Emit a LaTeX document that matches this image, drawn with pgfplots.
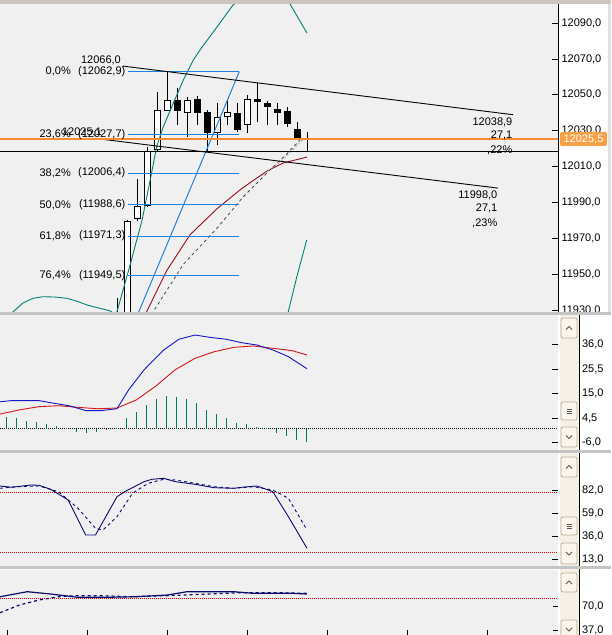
\documentclass[border=0pt]{standalone}
\usepackage{pgfplots}
\pgfplotsset{compat=1.18}
\usepackage{pgfplotstable}
\usepackage{fontspec}
\setmainfont{Liberation Sans}
\definecolor{panelbg}{RGB}{240,240,240}
\definecolor{sepgray}{RGB}{196,196,196}
\definecolor{topgray}{RGB}{205,196,190}
\definecolor{tealband}{RGB}{0,128,115}
\definecolor{histteal}{RGB}{0,120,100}
\definecolor{fibblue}{RGB}{30,130,220}
\definecolor{mared}{RGB}{150,10,30}
\definecolor{dashgray}{RGB}{60,75,75}
\definecolor{orangeline}{RGB}{245,140,50}
\definecolor{orangebox}{RGB}{248,160,70}
\definecolor{macdblue}{RGB}{20,20,200}
\definecolor{macdred}{RGB}{220,20,20}
\definecolor{navyline}{RGB}{10,10,110}
\definecolor{btnborder}{RGB}{190,172,150}
\definecolor{btnfill}{RGB}{250,246,238}
\definecolor{trackfill}{RGB}{244,240,230}
\newcommand{\lbl}{\fontsize{11}{13}\selectfont}

% candle wicks: x, wick low, wick high
\pgfplotstableread{
x wl wh
117 11905 11936.8
127 11905 11980.5
137 11979.5 12003.1
147 11987.5 12020.9
157 12018.5 12051.8
167 12041.0 12062.7
177 12033.2 12053.8
187 12026.5 12048.8
197 12033.0 12049.3
207 12018.1 12041.5
217 12022.0 12045.4
227 12033.2 12047.1
237 12029.3 12045.4
247 12028.7 12049.9
257 12034.8 12056.6
267 12033.2 12046.5
277 12033.2 12045.4
287 12032.1 12043.2
297 12024.8 12034.8
307 12018.1 12029.3
}\wicks
% rising candles: body low, body high
\pgfplotstableread{
x bl bh
127 11905 11979.7
137 11980.8 11988.1
147 11988.1 12018.7
157 12019.2 12041.5
167 12041.0 12047.1
187 12039.9 12047.1
217 12028.7 12037.6
227 12037.6 12040.4
247 12033.2 12047.7
}\upcandles
% falling candles
\pgfplotstableread{
x bl bh
177 12041.0 12047.1
197 12039.9 12047.7
207 12028.7 12040.4
237 12030.4 12039.9
257 12046.0 12047.7
267 12043.2 12045.4
277 12039.9 12042.1
287 12033.7 12041.0
297 12025.9 12030.9
307 12025.2 12025.8
}\downcandles

\pgfplotstableread{
x v
6.5 4.8
16.5 4.4
26.5 3.4
36.5 2.9
46.5 1.9
56.5 1.1
66.5 0.3
76.5 -1.4
86.5 -1.8
96.5 -1.4
106.5 -0.6
116.5 0.2
126.5 4.4
136.5 7.2
146.5 10.1
156.5 12.5
166.5 14.0
176.5 13.4
186.5 12.5
196.5 11.1
206.5 8.0
216.5 6.2
226.5 4.4
236.5 2.5
246.5 1.8
256.5 0.6
266.5 0.1
276.5 -1.8
286.5 -3.2
296.5 -4.9
306.5 -5.7
}\macdhist

\pgfplotsset{panel/.style={scale only axis, anchor=south west, width=558pt,
  xmin=0, xmax=558, axis background/.style={fill=panelbg},
  tick style={black, line width=0.8pt}, ytick align=inside, xtick align=inside,
  major tick length=6pt, yticklabel style={font=\lbl, anchor=west}}}

\begin{document}
\begin{tikzpicture}[x=1pt,y=1pt]
\useasboundingbox (0pt,0pt) rectangle (611pt,635pt);
\fill[white] (0pt,0pt) rectangle (611pt,635pt);

% ---------------- main price panel ----------------
\begin{axis}[panel, at={(0pt,322.5pt)}, height=308.5pt,
  ymin=11928.7, ymax=12100.6,
  axis x line=none, axis y line*=right, y axis line style={black, line width=0.8pt},
  ytick={11930,11950,11970,11990,12010,12030,12050,12070,12090},
  yticklabels={{11930,0},{11950,0},{11970,0},{11990,0},{12010,0},{12030,0},{12050,0},{12070,0},{12090,0}}]
% candles
\addplot[draw=none, forget plot, error bars/.cd, y dir=plus, y explicit, error mark=none,
  error bar style={draw=black, line width=1pt}]
  table[x=x, y=wl, y error plus expr={\thisrow{wh}-\thisrow{wl}}] {\wicks};
\addplot[draw=none, forget plot, error bars/.cd, y dir=plus, y explicit, error mark=none,
  error bar style={draw=black, line width=7pt}]
  table[x=x, y=bl, y error plus expr={\thisrow{bh}-\thisrow{bl}}] {\upcandles};
\addplot[draw=none, forget plot, error bars/.cd, y dir=plus, y explicit, error mark=none,
  error bar style={draw=white, line width=5pt}]
  table[x=x, y expr={\thisrow{bl}+0.56}, y error plus expr={\thisrow{bh}-\thisrow{bl}-1.12}] {\upcandles};
\addplot[draw=none, forget plot, error bars/.cd, y dir=plus, y explicit, error mark=none,
  error bar style={draw=black, line width=7pt}]
  table[x=x, y=bl, y error plus expr={\thisrow{bh}-\thisrow{bl}}] {\downcandles};
% bollinger-type bands
\addplot[tealband, line width=0.9pt] coordinates {(110,11915) (117,11929.2) (130,11955) (142,11980) (150,12002) (156.7,12021.1) (163.3,12032.2) (173.3,12045.3) (183.3,12058.2) (193.3,12069.4) (200,12075) (217,12087.8) (233,12100) (250,12108) (270,12110) (290,12100.6) (307,12084.4)};
\addplot[tealband, line width=0.9pt] coordinates {(0,11922) (13.3,11929.2) (23,11934) (33,11936.6) (43,11937.5) (55,11937.3) (67,11936.6) (77,11935) (87,11932.9) (100,11931) (110,11929.6) (120,11926) (140,11905) (200,11880) (260,11890) (280,11918) (288.3,11929.2) (297,11949) (306.7,11969.1)};
% moving averages
\addplot[mared, line width=0.9pt] coordinates {(135,11915) (146.7,11929.2) (166.7,11952) (190,11972) (217,11986.5) (240,11997) (250,12001) (267,12007.5) (283,12012) (307,12015.3)};
\addplot[dashgray, line width=0.8pt, dash pattern=on 3pt off 3pt] coordinates {(143,11915) (153.3,11929.2) (183.3,11955.5) (216.7,11975.5) (243.3,11993.2) (266.7,12006.3) (286.7,12017) (302,12026)};
\addplot[gray!70, line width=0.8pt, dash pattern=on 2pt off 2pt] coordinates {(262,12005) (283,12014) (303,12025)};
% fibonacci
\addplot[fibblue, line width=1pt] coordinates {(128,12062.9) (239.3,12062.9)};
\addplot[fibblue, line width=1pt] coordinates {(128,12027.7) (239.3,12027.7)};
\addplot[fibblue, line width=1pt] coordinates {(128,12006.4) (239.3,12006.4)};
\addplot[fibblue, line width=1pt] coordinates {(128,11988.6) (239.3,11988.6)};
\addplot[fibblue, line width=1pt] coordinates {(128,11971.3) (239.3,11971.3)};
\addplot[fibblue, line width=1pt] coordinates {(128,11949.5) (239.3,11949.5)};
\addplot[fibblue, line width=1pt] coordinates {(127.7,11914.3) (239.3,12062.9)};
% trend channel
\addplot[black, line width=0.9pt] coordinates {(123,12066.0) (513,12038.9)};
\addplot[black, line width=0.9pt] coordinates {(104,12025.1) (498,11998.0)};
% horizontal lines
\addplot[black, line width=0.9pt] coordinates {(0,12018.6) (558,12018.6)};
\addplot[orangeline, line width=1.8pt] coordinates {(0,12025.5) (558,12025.5)};
% labels
\node[anchor=east, inner sep=0pt, font=\lbl] at (axis cs:121,12069.4) {12066,0};
\node[anchor=east, inner sep=0pt, font=\lbl] at (axis cs:102,12028.9) {12025,1};
\node[anchor=east, inner sep=0pt, font=\lbl] at (axis cs:71,12062.9) {0,0\%};
\node[anchor=east, inner sep=0pt, font=\lbl] at (axis cs:125.5,12062.9) {(12062,9)};
\node[anchor=east, inner sep=0pt, font=\lbl] at (axis cs:71,12027.7) {23,6\%};
\node[anchor=east, inner sep=0pt, font=\lbl] at (axis cs:125.5,12027.7) {(12027,7)};
\node[anchor=east, inner sep=0pt, font=\lbl] at (axis cs:71,12006.4) {38,2\%};
\node[anchor=east, inner sep=0pt, font=\lbl] at (axis cs:125.5,12006.4) {(12006,4)};
\node[anchor=east, inner sep=0pt, font=\lbl] at (axis cs:71,11988.6) {50,0\%};
\node[anchor=east, inner sep=0pt, font=\lbl] at (axis cs:125.5,11988.6) {(11988,6)};
\node[anchor=east, inner sep=0pt, font=\lbl] at (axis cs:71,11971.3) {61,8\%};
\node[anchor=east, inner sep=0pt, font=\lbl] at (axis cs:125.5,11971.3) {(11971,3)};
\node[anchor=east, inner sep=0pt, font=\lbl] at (axis cs:71,11949.5) {76,4\%};
\node[anchor=east, inner sep=0pt, font=\lbl] at (axis cs:125.5,11949.5) {(11949,5)};
\node[anchor=east, inner sep=0pt, font=\lbl] at (axis cs:512.5,12034.8) {12038,9};
\node[anchor=east, inner sep=0pt, font=\lbl] at (axis cs:512.5,12027.3) {27,1};
\node[anchor=east, inner sep=0pt, font=\lbl] at (axis cs:512.5,12019.2) {,22\%};
\node[anchor=east, inner sep=0pt, font=\lbl] at (axis cs:497.5,11994.2) {11998,0};
\node[anchor=east, inner sep=0pt, font=\lbl] at (axis cs:497.5,11986.7) {27,1};
\node[anchor=east, inner sep=0pt, font=\lbl] at (axis cs:497.5,11978.6) {,23\%};
\end{axis}

% ---------------- MACD panel ----------------
\begin{axis}[panel, at={(0pt,184.5pt)}, height=135pt, ymin=-9.46, ymax=48.6,
  axis x line=none, axis y line*=right, y axis line style={draw=none},
  yticklabel style={xshift=20.5pt},
  ytick={-6,4.5,15,25.5,36}, yticklabels={{-6,0},{4,5},{15,0},{25,5},{36,0}}]
\addplot[black, line width=0.8pt, dash pattern=on 1pt off 1pt] coordinates {(0,0) (558,0)};
\addplot[ycomb, draw=histteal, line width=1pt] table[x=x,y=v] {\macdhist};
\addplot[macdred, line width=0.9pt] coordinates {(0,6.2) (19.5,8.0) (39,9.4) (58.5,9.8) (78,9.1) (97.4,8.5) (117,8.8) (136.4,12.3) (156,18.3) (175,25.2) (195,30.2) (214,33.0) (233.8,34.9) (253,35.5) (272.8,34.5) (292,33.5) (307,31.6)};
\addplot[macdblue, line width=0.9pt] coordinates {(0,11.5) (11.7,12.0) (39,12.0) (54.6,10.8) (70,9.7) (85.7,7.7) (101,7.7) (117,8.5) (128.6,16.6) (144,25.2) (163.7,33.8) (179,38.4) (195,40.2) (210,39.2) (226,38.4) (241.6,36.9) (257,35.9) (272.8,33.8) (288.4,30.9) (307,25.7)};
\end{axis}

% ---------------- Stochastic panel ----------------
\begin{axis}[panel, at={(0pt,68.5pt)}, height=113pt, ymin=5.8, ymax=118.8,
  axis x line=none, axis y line*=right, y axis line style={draw=none},
  yticklabel style={xshift=20.5pt},
  ytick={13,36,59,82}, yticklabels={{13,0},{36,0},{59,0},{82,0}}]
\addplot[red, line width=0.8pt, dash pattern=on 1pt off 1pt] coordinates {(0,80) (558,80)};
\addplot[red, line width=0.8pt, dash pattern=on 1pt off 1pt] coordinates {(0,20) (558,20)};
\addplot[navyline, line width=0.9pt, dash pattern=on 3pt off 3pt] coordinates {(0,84) (15.6,85.6) (39,86.3) (58.5,80.6) (78,64) (95.5,44) (103,42.3) (117,55.6) (132.5,79) (148,89) (163.7,93) (175.4,92.3) (195,89) (214,85.6) (233.8,84) (253,85.6) (272.8,82.3) (288.4,74) (307,42.3)};
\addplot[navyline, line width=0.9pt] coordinates {(0,86.3) (11.7,85) (31,87.3) (39,87) (50.7,83) (68.2,72.3) (85.7,37.3) (95.5,37.3) (117,75.6) (124.7,80.6) (144,90.6) (152,93) (163.7,94) (175.4,90.6) (195,88) (214,84.6) (233.8,84) (241.6,85) (257,86.3) (272.8,80.6) (288.4,55.6) (307,24)};
\end{axis}

% ---------------- bottom panel ----------------
\begin{axis}[panel, at={(0pt,0pt)}, height=65.5pt, ymin=31.2, ymax=118.8,
  axis x line*=bottom, x axis line style={draw=none},
  xtick={7,87,167,247,327,407,487}, xticklabels={}, major tick length=5pt,
  axis y line*=right, y axis line style={draw=none},
  yticklabel style={xshift=20.5pt},
  ytick={37,70}, yticklabels={{37,0},{70,0}}]
\addplot[red, line width=0.8pt, dash pattern=on 1pt off 1pt] coordinates {(0,80) (558,80)};
\addplot[navyline, line width=1.2pt, dash pattern=on 3pt off 3pt] coordinates {(0,61) (19.5,71.3) (39,78) (58.5,82.4) (78,83.8) (101,83.8) (128.6,82.4) (167.6,83.8) (206.5,86) (241.6,87.8) (272.8,87.8) (307,87)};
\addplot[navyline, line width=1.2pt] coordinates {(0,82.4) (27.3,89.1) (50.7,86) (78,81.6) (105,81.6) (136.4,82.4) (167.6,84.7) (187,89.1) (233.8,89.1) (253,87) (292,87) (307,86)};
\end{axis}

% ---------------- window chrome ----------------
\fill[trackfill] (559.5pt,184.5pt) rectangle (578.5pt,319.5pt);
\fill[trackfill] (559.5pt,68.5pt) rectangle (578.5pt,181.5pt);
\fill[trackfill] (559.5pt,0pt) rectangle (578.5pt,65.5pt);
\draw[black, line width=0.8pt] (579.5pt,0pt) -- (579.5pt,319.5pt);
\tikzset{btn/.style={draw=btnborder, fill=btnfill, rounded corners=2pt, line width=0.8pt},
  gly/.style={draw=black!65, line width=0.8pt}}
\draw[btn] (561pt,297pt) rectangle (577pt,317pt);
\draw[gly] (566pt,305.5pt) -- (569pt,308.5pt) -- (572pt,305.5pt);
\draw[btn] (561pt,215pt) rectangle (577pt,233pt);
\draw[gly] (566.5pt,222pt) -- (571.5pt,222pt) (566.5pt,224pt) -- (571.5pt,224pt) (566.5pt,226pt) -- (571.5pt,226pt);
\draw[btn] (561pt,188pt) rectangle (577pt,208pt);
\draw[gly] (566pt,199.5pt) -- (569pt,196.5pt) -- (572pt,199.5pt);
\draw[btn] (561pt,158pt) rectangle (577pt,178pt);
\draw[gly] (566pt,166.5pt) -- (569pt,169.5pt) -- (572pt,166.5pt);
\draw[btn] (561pt,100pt) rectangle (577pt,118pt);
\draw[gly] (566.5pt,107pt) -- (571.5pt,107pt) (566.5pt,109pt) -- (571.5pt,109pt) (566.5pt,111pt) -- (571.5pt,111pt);
\draw[btn] (561pt,71pt) rectangle (577pt,92pt);
\draw[gly] (566pt,83pt) -- (569pt,80pt) -- (572pt,83pt);
\draw[btn] (561pt,43pt) rectangle (577pt,62pt);
\draw[gly] (566pt,51pt) -- (569pt,54pt) -- (572pt,51pt);
\draw[btn] (561pt,-5pt) rectangle (577pt,15pt);
\draw[gly] (566pt,7pt) -- (569pt,4pt) -- (572pt,7pt);
\fill[sepgray] (0pt,319.5pt) rectangle (611pt,322.5pt);
\fill[sepgray] (0pt,181.5pt) rectangle (611pt,184.5pt);
\fill[sepgray] (0pt,65.5pt) rectangle (611pt,68.5pt);
\fill[topgray] (0pt,631pt) rectangle (611pt,635pt);
\fill[black!12] (607.5pt,322.5pt) rectangle (611pt,631pt);
\fill[orangebox, rounded corners=2pt] (560pt,489pt) rectangle (607pt,503pt);
\node[text=white, font=\lbl, inner sep=0pt] at (583.5pt,496pt) {12025,5};
\end{tikzpicture}
\end{document}
